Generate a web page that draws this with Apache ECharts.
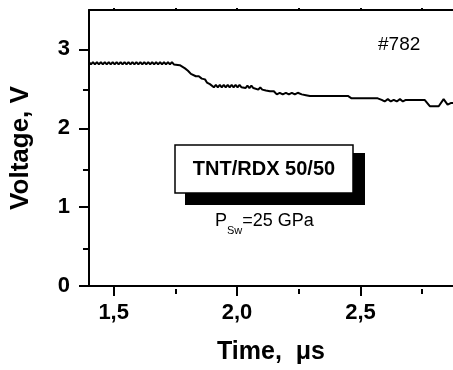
<!DOCTYPE html>
<html>
<head>
<meta charset="utf-8">
<script src="https://cdn.jsdelivr.net/npm/echarts@6/dist/echarts.min.js"></script>
<style>
  html, body { margin: 0; padding: 0; background: #fff; }
  #chart { width: 453px; height: 370px; }
</style>
</head>
<body>
<div id="chart"></div>
<script>
var timeUs = [
  1.400, 1.408, 1.416, 1.424, 1.432, 1.440, 1.448, 1.456, 1.464, 1.472,
  1.480, 1.488, 1.496, 1.504, 1.512, 1.520, 1.528, 1.536, 1.544, 1.552,
  1.560, 1.568, 1.576, 1.584, 1.592, 1.600, 1.608, 1.616, 1.624, 1.632,
  1.640, 1.648, 1.656, 1.664, 1.672, 1.680, 1.688, 1.696, 1.704, 1.712,
  1.720, 1.728, 1.736, 1.744, 1.752,
  1.768, 1.789, 1.801, 1.813, 1.821, 1.833, 1.845, 1.857, 1.870, 1.878,
  1.890, 1.898,
  1.906, 1.914, 1.922, 1.930, 1.938, 1.946, 1.954, 1.962, 1.970, 1.978,
  1.986, 1.994, 2.002, 2.010, 2.018, 2.026, 2.034, 2.042, 2.050, 2.058,
  2.066, 2.074,
  2.086, 2.094, 2.102, 2.110, 2.117, 2.133, 2.149, 2.161, 2.173, 2.185,
  2.198, 2.210, 2.222, 2.234, 2.246, 2.262, 2.279, 2.295, 2.449, 2.464,
  2.570, 2.586, 2.598, 2.611, 2.623, 2.635, 2.647, 2.660, 2.672, 2.684,
  2.760, 2.781, 2.817, 2.837, 2.853, 2.866, 2.875
];
var voltage = [
  2.84, 2.81, 2.84, 2.81, 2.84, 2.81, 2.84, 2.81, 2.84, 2.81,
  2.84, 2.81, 2.84, 2.81, 2.84, 2.81, 2.84, 2.81, 2.84, 2.81,
  2.84, 2.81, 2.84, 2.81, 2.84, 2.81, 2.84, 2.81, 2.84, 2.81,
  2.84, 2.81, 2.84, 2.81, 2.84, 2.81, 2.84, 2.81, 2.84, 2.81,
  2.84, 2.81, 2.84, 2.81, 2.83,
  2.80, 2.76, 2.73, 2.69, 2.70, 2.66, 2.66, 2.63, 2.62, 2.58,
  2.56, 2.545,
  2.52, 2.55, 2.52, 2.55, 2.52, 2.55, 2.52, 2.55, 2.52, 2.55,
  2.52, 2.55, 2.52, 2.55, 2.52, 2.54, 2.51, 2.54, 2.51, 2.54,
  2.51, 2.53,
  2.49, 2.52, 2.49, 2.51, 2.48, 2.47, 2.47, 2.43, 2.45, 2.43,
  2.45, 2.43, 2.45, 2.43, 2.45, 2.43, 2.42, 2.41, 2.41, 2.38,
  2.38, 2.36, 2.34, 2.37, 2.34, 2.36, 2.34, 2.37, 2.34, 2.36,
  2.36, 2.28, 2.28, 2.37, 2.30, 2.32, 2.32
];
var xMajorTicks = [1.5, 2.0, 2.5];
var xMinorTicks = [1.75, 2.25, 2.75];
var yMajorTicks = [0, 1, 2, 3];
var yMinorTicks = [0.5, 1.5, 2.5];

var FONT = '"Liberation Sans", Arial, sans-serif';
var chart = echarts.init(document.getElementById('chart'), null, { renderer: 'canvas' });

var gridBox = { left: 89, top: 10, right: 0, bottom: 81, containLabel: false };
var line = { show: true, onZero: false, lineStyle: { color: '#000', width: 2 } };

var points = timeUs.map(function (t, i) { return [t, voltage[i]]; });

var option = {
  backgroundColor: '#fff',
  animation: false,
  grid: [Object.assign({}, gridBox), Object.assign({}, gridBox)],
  xAxis: [
    {
      type: 'value', gridIndex: 0, position: 'bottom', min: 1.4, max: 2.875,
      axisLine: line, splitLine: { show: false },
      axisTick: { show: true, length: 10, customValues: xMajorTicks, lineStyle: { color: '#000', width: 2 } },
      axisLabel: {
        customValues: xMajorTicks, margin: 16, color: '#000', fontFamily: FONT, fontWeight: 'bold', fontSize: 22,
        formatter: function (v) { return v.toFixed(1).replace('.', ','); }
      },
      name: 'Time,  \u03bcs', nameLocation: 'middle', nameGap: 54,
      nameTextStyle: { color: '#000', fontFamily: FONT, fontWeight: 'bold', fontSize: 25 }
    },
    {
      type: 'value', gridIndex: 0, position: 'top', min: 1.4, max: 2.875,
      axisLine: line, splitLine: { show: false },
      axisTick: { show: true, length: 2, customValues: xMajorTicks.concat(xMinorTicks), lineStyle: { color: '#000', width: 2 } },
      axisLabel: { show: false }
    },
    {
      type: 'value', gridIndex: 1, position: 'bottom', min: 1.4, max: 2.875,
      axisLine: { show: false, onZero: false }, splitLine: { show: false },
      axisTick: { show: true, length: 5, customValues: xMinorTicks, lineStyle: { color: '#000', width: 2 } },
      axisLabel: { show: false }
    }
  ],
  yAxis: [
    {
      type: 'value', gridIndex: 0, min: 0, max: 3.5,
      axisLine: line, splitLine: { show: false },
      axisTick: { show: true, length: 10, customValues: yMajorTicks, lineStyle: { color: '#000', width: 2 } },
      axisLabel: { customValues: yMajorTicks, margin: 19, color: '#000', fontFamily: FONT, fontWeight: 'bold', fontSize: 22 },
      name: 'Voltage, V', nameLocation: 'middle', nameGap: 55, nameRotate: 90,
      nameTextStyle: { color: '#000', fontFamily: FONT, fontWeight: 'bold', fontSize: 26 }
    },
    {
      type: 'value', gridIndex: 1, min: 0, max: 3.5,
      axisLine: { show: false, onZero: false }, splitLine: { show: false },
      axisTick: { show: true, length: 6, customValues: yMinorTicks, lineStyle: { color: '#000', width: 2 } },
      axisLabel: { show: false }
    }
  ],
  series: [
    {
      type: 'line', xAxisIndex: 0, yAxisIndex: 0, data: points,
      showSymbol: false, symbol: 'none', clip: true,
      lineStyle: { color: '#000', width: 2 }
    }
  ],
  graphic: [
    { type: 'rect', shape: { x: 185, y: 153, width: 180, height: 52 }, style: { fill: '#000' }, z: 10 },
    { type: 'rect', shape: { x: 175, y: 145, width: 178, height: 48 }, style: { fill: '#fff', stroke: '#000', lineWidth: 1.5 }, z: 11 },
    {
      type: 'text', x: 264, y: 169, z: 12,
      style: { text: 'TNT/RDX 50/50', fill: '#000', font: 'bold 20px ' + FONT, align: 'center', verticalAlign: 'middle' }
    },
    {
      type: 'text', x: 215, y: 220, z: 12,
      style: {
        text: '{p|P}{s|Sw}{p|=25 GPa}', verticalAlign: 'middle',
        rich: {
          p: { fill: '#000', fontFamily: FONT, fontSize: 18, verticalAlign: 'bottom', lineHeight: 20 },
          s: { fill: '#000', fontFamily: FONT, fontSize: 11, verticalAlign: 'bottom', lineHeight: 14, padding: [0, 0, -6, 0] }
        }
      }
    },
    {
      type: 'text', x: 378, y: 45, z: 12,
      style: { text: '#782', fill: '#000', font: '19px ' + FONT, align: 'left', verticalAlign: 'middle' }
    }
  ]
};

chart.setOption(option);
</script>
</body>
</html>
